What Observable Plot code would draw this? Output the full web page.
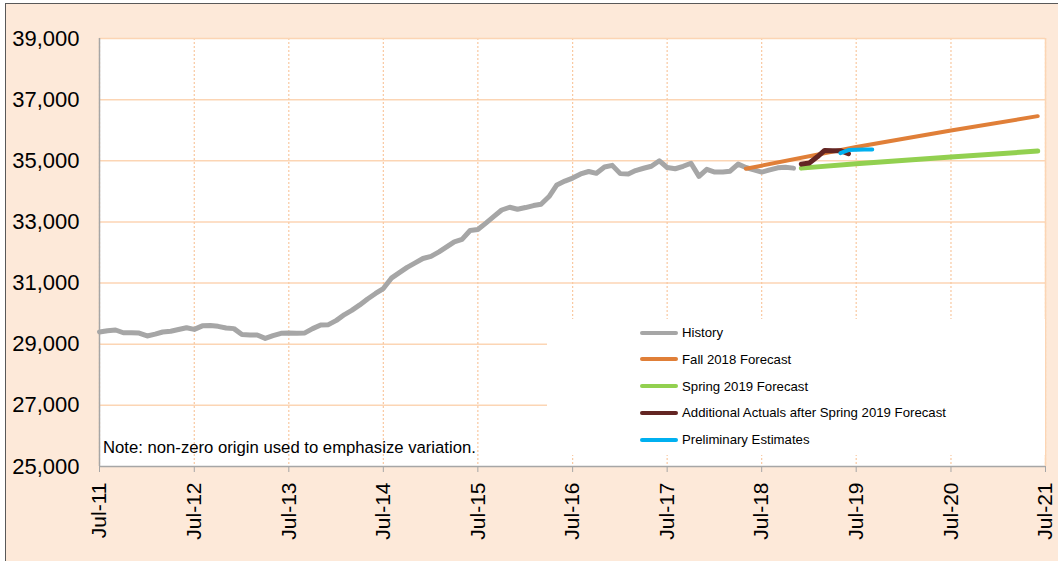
<!DOCTYPE html>
<html>
<head>
<meta charset="utf-8">
<script src="https://cdn.jsdelivr.net/npm/d3@7"></script>
<script src="https://cdn.jsdelivr.net/npm/@observablehq/plot@0.6"></script>
<style>
  html, body { margin: 0; padding: 0; background: #ffffff; }
  #wrap { position: relative; width: 1058px; height: 561px; overflow: hidden; font-family: "Liberation Sans", Arial, sans-serif; }
  #bg { position: absolute; left: 5px; top: 3px; width: 1070px; height: 580px; background: #fde9d9; border: 1.5px solid #595959; box-sizing: border-box; }
  #chart { position: absolute; left: 0; top: 0; }
  #legend { position: absolute; left: 547px; top: 319px; width: 498px; height: 136px; background: #ffffff; }
  .row { position: absolute; left: 93px; height: 16px; display: flex; align-items: center; font-size: 13.2px; color: #000; white-space: nowrap; }
  .sw { width: 38px; height: 4px; border-radius: 2px; margin-right: 4px; }
  #note { position: absolute; left: 103px; top: 440px; font-size: 16.7px; line-height: 16.7px; color: #000; white-space: nowrap; }
</style>
</head>
<body>
<div id="wrap">
  <div id="bg"></div>
  <div id="chart"></div>
  <div id="legend"></div>
  <div id="note"></div>
</div>
<script>
// ---------- data ----------
const historyStart = "2011-07";
const historyValues = [
  29400,29440,29465,29375,29375,29365,29270,29330,29400,29425,
  29480,29540,29485,29600,29610,29585,29530,29510,29315,29305,
  29300,29190,29280,29355,29365,29360,29370,29510,29630,29640,
  29780,29970,30105,30285,30480,30660,30820,31160,31340,31515,
  31660,31805,31875,32020,32175,32350,32430,32720,32750,32960,
  33180,33390,33480,33415,33470,33535,33580,33830,34210,34335,
  34435,34570,34650,34590,34795,34850,34580,34570,34680,34755,
  34820,35000,34780,34740,34820,34920,34490,34720,34630,34630,
  34660,34890,34780,34700,34630,34700,34770,34790,34760
];
const fallDates = ["2018-05", "2019-07", "2020-07", "2021-06"];
const fallValues = [34740, 35450, 35990, 36460];
const springDates = ["2018-12", "2019-07", "2020-07", "2021-06"];
const springValues = [34760, 34900, 35120, 35320];
const actualDates = ["2018-12", "2019-01", "2019-02", "2019-03", "2019-04", "2019-05", "2019-06"];
const actualValues = [34890, 34930, 35130, 35340, 35330, 35330, 35230];
const prelimDates = ["2019-05", "2019-06", "2019-07", "2019-08", "2019-09"];
const prelimValues = [35250, 35350, 35360, 35370, 35370];

const xTickLabels = ["2011-07","2012-07","2013-07","2014-07","2015-07","2016-07","2017-07","2018-07","2019-07","2020-07","2021-07"];
const yTickValues = [25000, 27000, 29000, 31000, 33000, 35000, 37000, 39000];

const seriesNames = ["History", "Fall 2018 Forecast", "Spring 2019 Forecast", "Additional Actuals after Spring 2019 Forecast", "Preliminary Estimates"];
const seriesColors = ["#a6a6a6", "#e07f38", "#92d050", "#632523", "#00b0f0"];
const noteText = "Note: non-zero origin used to emphasize variation.";

// ---------- build ----------
const parse = d3.utcParse("%Y-%m");
const start = parse(historyStart);
const history = historyValues.map((v, i) => ({date: d3.utcMonth.offset(start, i), value: v}));
const pairs = (ds, vs) => ds.map((d, i) => ({date: parse(d), value: vs[i]}));
const fall = pairs(fallDates, fallValues);
const spring = pairs(springDates, springValues);
const actual = pairs(actualDates, actualValues);
const prelim = pairs(prelimDates, prelimValues);
const xTicks = xTickLabels.map(parse);
const x0 = xTicks[0], x1 = xTicks[xTicks.length - 1];
const yMin = yTickValues[0], yMax = yTickValues[yTickValues.length - 1];
const yInner = yTickValues.slice(1, -1);

const lineOpts = (color, w) => ({x: "date", y: "value", stroke: color, strokeWidth: w, strokeLinecap: "round", strokeLinejoin: "round"});

const plot = Plot.plot({
  width: 1058,
  height: 561,
  marginLeft: 99,
  marginRight: 13,
  marginTop: 38,
  marginBottom: 95,
  style: {background: "transparent", fontFamily: "'Liberation Sans', Arial, sans-serif", overflow: "visible"},
  x: {type: "utc", domain: [x0, x1], label: null},
  y: {domain: [yMin, yMax], label: null},
  marks: [
    Plot.frame({fill: "#ffffff", stroke: null}),
    Plot.gridY(yInner, {stroke: "#fcd5b4", strokeOpacity: 1, strokeWidth: 1.5}),
    Plot.gridX(xTicks, {stroke: "#f9c8a0", strokeOpacity: 1, strokeWidth: 1.2, strokeDasharray: "2,2"}),
    Plot.ruleY([yMax], {stroke: "#fcd5b4", strokeWidth: 1.5}),
    Plot.ruleX([x1], {stroke: "#fcd5b4", strokeWidth: 1.5}),
    Plot.ruleX([x0], {stroke: "#a6a6a6", strokeWidth: 1.5}),
    Plot.ruleY([yMin], {stroke: "#a6a6a6", strokeWidth: 1.5}),
    Plot.axisY(yTickValues, {label: null, tickSize: 0, tickPadding: 20, tickFormat: d3.format(","), fontSize: 22, fill: "#000"}),
    Plot.axisX(xTicks, {label: null, tickSize: 6, tickPadding: 10, tickRotate: -90, tickFormat: d3.utcFormat("%b-%y"), fontSize: 21, stroke: "#a6a6a6", fill: "#000"}),
    Plot.line(history, lineOpts(seriesColors[0], 5)),
    Plot.line(fall, lineOpts(seriesColors[1], 4)),
    Plot.line(spring, lineOpts(seriesColors[2], 5)),
    Plot.line(actual, lineOpts(seriesColors[3], 5)),
    Plot.line(prelim, lineOpts(seriesColors[4], 4))
  ]
});
document.getElementById("chart").appendChild(plot);

// legend
const legend = document.getElementById("legend");
seriesNames.forEach((name, i) => {
  const row = document.createElement("div");
  row.className = "row";
  row.style.top = (13.7 + i * 26.7 - 8) + "px";
  const sw = document.createElement("div");
  sw.className = "sw";
  sw.style.background = seriesColors[i];
  const t = document.createElement("span");
  t.textContent = name;
  row.appendChild(sw);
  row.appendChild(t);
  legend.appendChild(row);
});
document.getElementById("note").textContent = noteText;
</script>
</body>
</html>
